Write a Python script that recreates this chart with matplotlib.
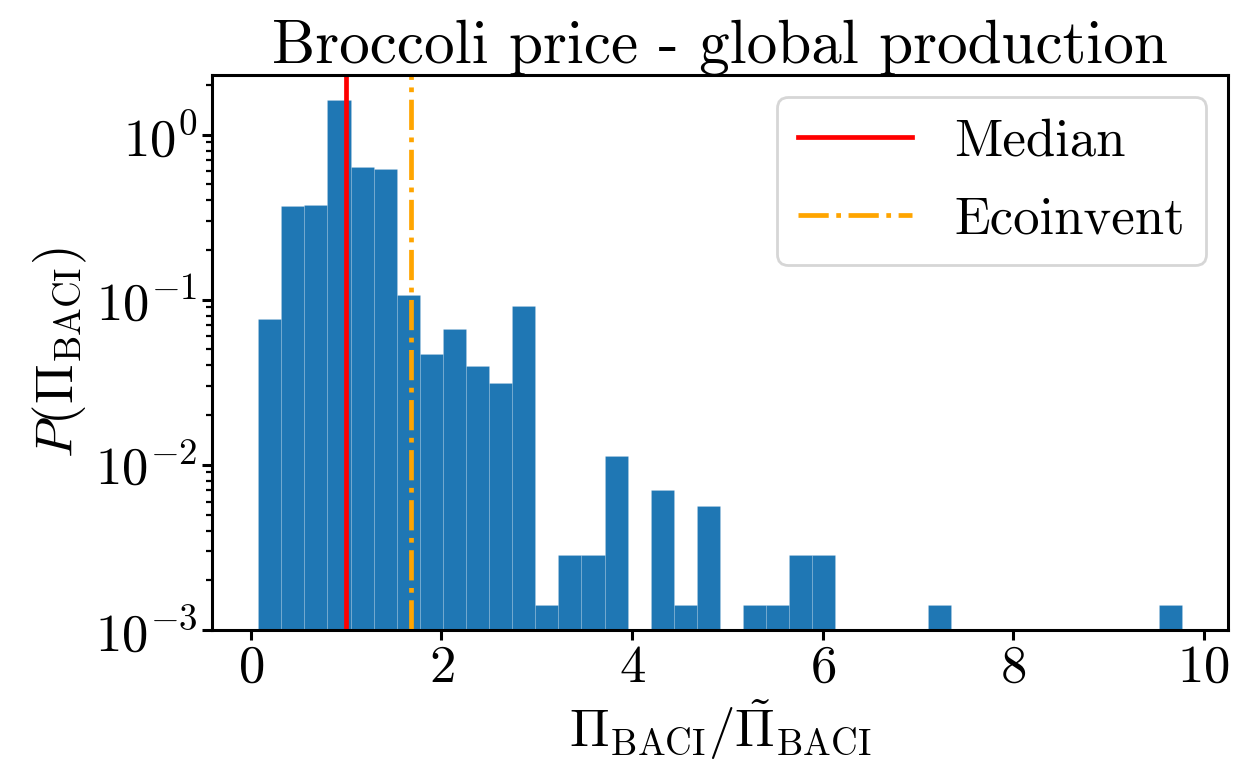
import numpy as np
import matplotlib
matplotlib.use("Agg")
from matplotlib import pyplot as plt

# histogram: 40 equal bins between the data extremes
bin_lo = 0.077
bin_hi = 9.77
n_bins = 40
counts = [54, 263, 264, 1144, 451, 436, 76, 33, 47, 28,
          22, 65, 1, 2, 2, 8, 0, 5, 1, 4,
          0, 1, 1, 2, 2, 0, 0, 0, 0, 1,
          0, 0, 0, 0, 0, 0, 0, 0, 0, 1]

median = 1.0
ecoinvent = 1.68

plt.rcParams['font.family'] = 'serif'
plt.rcParams['font.serif'] = ['cmr10']
plt.rcParams['mathtext.fontset'] = 'cm'
plt.rcParams['axes.formatter.use_mathtext'] = True
plt.rcParams['font.size'] = 38

edges = np.linspace(bin_lo, bin_hi, n_bins + 1)
centers = 0.5 * (edges[:-1] + edges[1:])

fig, ax = plt.subplots(figsize=(12.35, 7.73), dpi=100)
fig.subplots_adjust(left=0.1717, right=0.9943, top=0.903, bottom=0.185)

ax.hist(centers, bins=edges, weights=counts, density=True,
        color='#1f77b4', ec=(1, 1, 1, 0.15), lw=0.6)
ax.axvline(median, color='red', lw=3.4, label="Median")
ax.axvline(ecoinvent, color='orange', lw=3.4, ls='-.', label="Ecoinvent")

ax.set_yscale('log')
ax.set_ylim(1e-3, 2.3)
ax.set_xticks([0, 2, 4, 6, 8, 10])

ax.set_title("Broccoli price - global production", fontsize=44)
ax.set_xlabel(r"$\Pi_{\rm BACI}/\tilde{\Pi}_{\rm BACI}$")
ax.set_ylabel(r"$P(\Pi_{\rm BACI})$")

for s in ax.spines.values():
    s.set_linewidth(2.2)
ax.tick_params(which='major', length=7, width=2.2)
ax.tick_params(which='minor', length=4, width=1.6)

leg = ax.legend(loc='upper right', fontsize=38, labelspacing=0.6,
                handlelength=2.15, borderaxespad=0.42)
leg.get_frame().set_linewidth(2)

fig.savefig("out.png", dpi=100)
